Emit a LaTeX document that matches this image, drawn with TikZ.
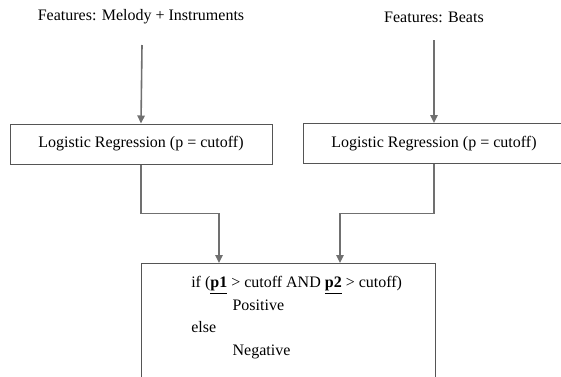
\documentclass[tikz,border=0pt]{standalone}
\usepackage{fontspec}
\setmainfont{Liberation Serif}
\usetikzlibrary{arrows.meta,positioning,calc}
\definecolor{linegray}{RGB}{112,112,112}
\definecolor{boxgray}{RGB}{85,85,85}

\begin{document}
\begin{tikzpicture}[x=0.75pt,y=-0.75pt,
    lrbox/.style={draw=boxgray, line width=0.75pt, minimum width=196.5pt, minimum height=30pt, font=\fontsize{12}{14}\selectfont},
    flow/.style={draw=linegray, line width=1.2pt, -{Triangle[width=5.5pt,length=6pt]}},
    feat/.style={font=\fontsize{12}{14}\selectfont}]
                    \useasboundingbox (0,0) rectangle (561,376);
                    \clip (0,0) rectangle (561,376);

                    % Features
                    \node[feat] (feat1) at (141,17) {Features: Melody + Instruments};
                    \node[feat] (feat2) at (434,17) {Features: Beats};
                    \coordinate (src1) at (142,45);
                    \coordinate (src2) at (434,40);

                    % Logistic regressions
                    \node[lrbox] (lr1) at (141,144) {Logistic Regression (p = cutoff)};
                    \node[lrbox] (lr2) at (434,143.5) {Logistic Regression (p = cutoff)};

                    % Decision
                    \node[draw=boxgray, line width=0.75pt, minimum width=220.5pt, minimum height=100.5pt] (decide) at (288,330) {};
                    \coordinate (in1) at (219,263);
                    \coordinate (in2) at (340,263);
                    \node[anchor=north west, inner sep=0pt, align=left, font=\fontsize{12}{17}\selectfont] (rule) at (191,276)
                        {if (\underline{\textbf{p1}} > cutoff AND \underline{\textbf{p2}} > cutoff)\\
                         \hspace*{31pt}Positive\\
                         else\\
                         \hspace*{31pt}Negative};

                    % Arrows
                    \draw[flow] (src1) -- (lr1.north);
                    \draw[flow] (src2) -- (lr2.north);
                    \draw[flow] (lr1.south) -- ++(0,49) -| (in1);
                    \draw[flow] (lr2.south) -- ++(0,49.5) -| (in2);
                \end{tikzpicture}
\end{document}
